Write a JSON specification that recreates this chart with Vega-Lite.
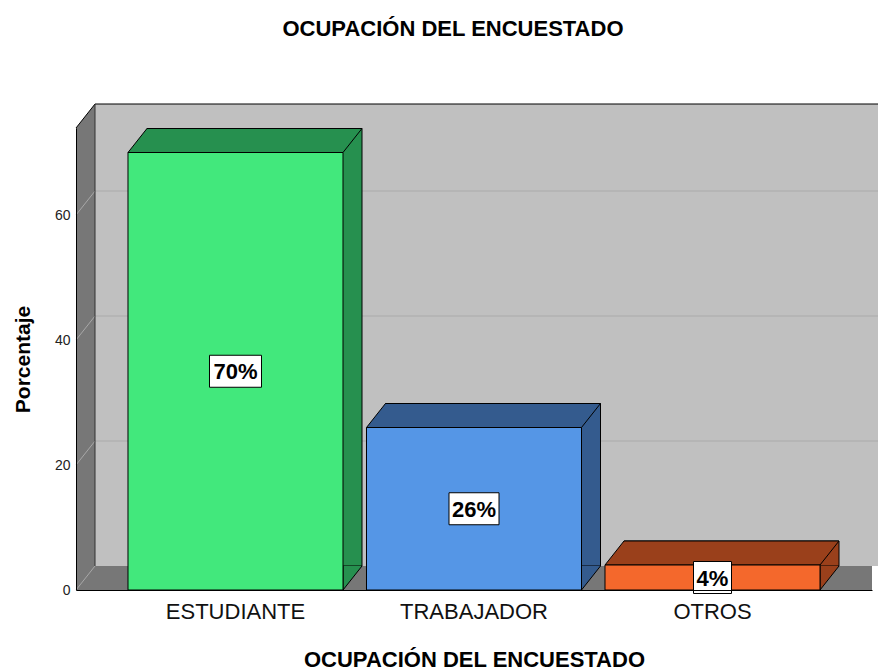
{
  "$schema": "https://vega.github.io/schema/vega-lite/v6.json",
  "width": 796,
  "height": 462,
  "autosize": "none",
  "padding": {"left": 76, "top": 128, "right": 6, "bottom": 80},
  "background": "white",
  "title": {"text": "OCUPACIÓN DEL ENCUESTADO", "fontSize": 22, "fontWeight": "bold", "font": "Liberation Sans", "color": "black", "anchor": "middle", "frame": "group", "dx": -21, "offset": 63},
  "data": {"values": [
    {"ocupacion": "ESTUDIANTE", "pct": 70, "etiqueta": "70%"},
    {"ocupacion": "TRABAJADOR", "pct": 26, "etiqueta": "26%"},
    {"ocupacion": "OTROS", "pct": 4, "etiqueta": "4%"}
  ]},
  "datasets": {
    "rejilla": [{"valor": 0}, {"valor": 20}, {"valor": 40}, {"valor": 60}],
    "marco": [{"pieza": "marco"}]
  },
  "layer": [
    {
      "data": {"name": "marco"},
      "mark": {"type": "rect", "fill": "#777777", "strokeWidth": 0},
      "encoding": {
        "x": {"datum": 0, "type": "quantitative", "scale": {"domain": [0, 1], "nice": false, "zero": false}, "axis": null},
        "x2": {"datum": 1},
        "y": {"datum": 0, "type": "quantitative", "scale": {"domain": [0, 73.92], "nice": false, "zero": true},
          "axis": {"title": "Porcentaje", "values": [0, 20, 40, 60], "grid": false, "ticks": false, "labelPadding": 6, "labelFontSize": 14, "labelFont": "Liberation Sans", "labelColor": "#222222", "domainColor": "black", "domainWidth": 1, "titleFontSize": 21, "titleFont": "Liberation Sans", "titleFontWeight": "bold", "titleColor": "black", "titlePadding": 21, "zindex": 1}},
        "y2": {"datum": 73.92}
      }
    },
    {
      "data": {"name": "marco"},
      "mark": {"type": "rect", "fill": "#c0c0c0", "strokeWidth": 0, "xOffset": 19, "x2Offset": 19, "yOffset": -24, "y2Offset": -24},
      "encoding": {
        "x": {"datum": 0, "type": "quantitative", "scale": {"domain": [0, 1], "nice": false, "zero": false}, "axis": null},
        "x2": {"datum": 1},
        "y": {"datum": 0, "type": "quantitative", "scale": {"domain": [0, 73.92], "nice": false, "zero": true}, "axis": null},
        "y2": {"datum": 73.92}
      }
    },
    {
      "data": {"name": "rejilla"},
      "transform": [{"filter": "datum.valor > 0"}],
      "mark": {"type": "rule", "color": "#aaaaaa", "strokeWidth": 1, "xOffset": 19, "x2Offset": 19, "yOffset": -24},
      "encoding": {
        "x": {"datum": 0, "type": "quantitative", "scale": {"domain": [0, 1], "nice": false, "zero": false}, "axis": null},
        "x2": {"datum": 1},
        "y": {"field": "valor", "type": "quantitative", "scale": {"domain": [0, 73.92], "nice": false, "zero": true}, "axis": null}
      }
    },
    {
      "data": {"name": "rejilla"},
      "mark": {"type": "rule", "color": "#a8a8a8", "strokeWidth": 1, "x2Offset": 19, "y2Offset": -24},
      "encoding": {
        "x": {"datum": 0, "type": "quantitative", "scale": {"domain": [0, 1], "nice": false, "zero": false}, "axis": null},
        "x2": {"datum": 0},
        "y": {"field": "valor", "type": "quantitative", "scale": {"domain": [0, 73.92], "nice": false, "zero": true}, "axis": null},
        "y2": {"field": "valor"}
      }
    },
    {
      "data": {"name": "marco"},
      "mark": {"type": "point", "shape": "M0,0L19,-24L19,0Z", "size": 4, "filled": true, "fill": "#777777", "strokeWidth": 0, "opacity": 1},
      "encoding": {
        "x": {"datum": 0, "type": "quantitative", "scale": {"domain": [0, 1], "nice": false, "zero": false}, "axis": null},
        "y": {"datum": 73.92, "type": "quantitative", "scale": {"domain": [0, 73.92], "nice": false, "zero": true}, "axis": null}
      }
    },
    {
      "data": {"name": "marco"},
      "mark": {"type": "rule", "color": "black", "strokeWidth": 1, "xOffset": 19, "x2Offset": 19, "yOffset": -24},
      "encoding": {
        "x": {"datum": 0, "type": "quantitative", "scale": {"domain": [0, 1], "nice": false, "zero": false}, "axis": null},
        "x2": {"datum": 1},
        "y": {"datum": 73.92, "type": "quantitative", "scale": {"domain": [0, 73.92], "nice": false, "zero": true}, "axis": null}
      }
    },
    {
      "data": {"name": "marco"},
      "mark": {"type": "rule", "color": "black", "strokeWidth": 1, "x2Offset": 19, "y2Offset": -24},
      "encoding": {
        "x": {"datum": 0, "type": "quantitative", "scale": {"domain": [0, 1], "nice": false, "zero": false}, "axis": null},
        "x2": {"datum": 0},
        "y": {"datum": 73.92, "type": "quantitative", "scale": {"domain": [0, 73.92], "nice": false, "zero": true}, "axis": null},
        "y2": {"datum": 73.92}
      }
    },
    {
      "data": {"name": "marco"},
      "mark": {"type": "rule", "color": "#333333", "strokeWidth": 1, "xOffset": 19, "yOffset": -24, "y2Offset": -24},
      "encoding": {
        "x": {"datum": 0, "type": "quantitative", "scale": {"domain": [0, 1], "nice": false, "zero": false}, "axis": null},
        "y": {"datum": 0, "type": "quantitative", "scale": {"domain": [0, 73.92], "nice": false, "zero": true}, "axis": null},
        "y2": {"datum": 73.92}
      }
    },
    {
      "mark": {"type": "bar", "stroke": "black", "strokeWidth": 1, "xOffset": 19, "x2Offset": 19, "yOffset": -24, "y2Offset": -24},
      "encoding": {
        "x": {"field": "ocupacion", "type": "nominal", "scale": {"type": "band", "domain": ["ESTUDIANTE", "TRABAJADOR", "OTROS"], "paddingInner": 0.0985, "paddingOuter": 0.218}, "axis": null},
        "y": {"field": "pct", "type": "quantitative", "scale": {"domain": [0, 73.92], "nice": false, "zero": true}, "axis": null},
        "color": {"field": "ocupacion", "type": "nominal", "scale": {"domain": ["ESTUDIANTE", "TRABAJADOR", "OTROS"], "range": ["#26904f", "#345b8e", "#9a401b"]}, "legend": null}
      }
    },
    {
      "mark": {"type": "point", "shape": "M0,0L19,-24L234,-24L215,0Z", "size": 4, "filled": true, "stroke": "black", "strokeWidth": 1, "opacity": 1},
      "encoding": {
        "x": {"field": "ocupacion", "type": "nominal", "bandPosition": 0, "scale": {"type": "band", "domain": ["ESTUDIANTE", "TRABAJADOR", "OTROS"], "paddingInner": 0.0985, "paddingOuter": 0.218}, "axis": null},
        "y": {"field": "pct", "type": "quantitative", "scale": {"domain": [0, 73.92], "nice": false, "zero": true}, "axis": null},
        "color": {"field": "ocupacion", "type": "nominal", "scale": {"domain": ["ESTUDIANTE", "TRABAJADOR", "OTROS"], "range": ["#26904f", "#345b8e", "#9a401b"]}, "legend": null}
      }
    },
    {
      "mark": {"type": "point", "shape": "M0,-24L0,0L19,-24", "size": 4, "filled": true, "stroke": "black", "strokeWidth": 1, "opacity": 1},
      "encoding": {
        "x": {"field": "ocupacion", "type": "nominal", "bandPosition": 1, "scale": {"type": "band", "domain": ["ESTUDIANTE", "TRABAJADOR", "OTROS"], "paddingInner": 0.0985, "paddingOuter": 0.218}, "axis": null},
        "y": {"datum": 0, "type": "quantitative", "scale": {"domain": [0, 73.92], "nice": false, "zero": true}, "axis": null},
        "color": {"field": "ocupacion", "type": "nominal", "scale": {"domain": ["ESTUDIANTE", "TRABAJADOR", "OTROS"], "range": ["#26904f", "#345b8e", "#9a401b"]}, "legend": null}
      }
    },
    {
      "mark": {"type": "bar", "stroke": "black", "strokeWidth": 1},
      "encoding": {
        "x": {"field": "ocupacion", "type": "nominal", "scale": {"type": "band", "domain": ["ESTUDIANTE", "TRABAJADOR", "OTROS"], "paddingInner": 0.0985, "paddingOuter": 0.218},
          "axis": {"title": "OCUPACIÓN DEL ENCUESTADO", "labelAngle": 0, "ticks": false, "labelPadding": 11, "labelFontSize": 22, "labelFont": "Liberation Sans", "labelColor": "#111111", "domainColor": "black", "domainWidth": 1, "titleFontSize": 22, "titleFont": "Liberation Sans", "titleFontWeight": "bold", "titleColor": "black", "titlePadding": 27, "zindex": 1}},
        "y": {"field": "pct", "type": "quantitative", "scale": {"domain": [0, 73.92], "nice": false, "zero": true}, "axis": null},
        "color": {"field": "ocupacion", "type": "nominal", "scale": {"domain": ["ESTUDIANTE", "TRABAJADOR", "OTROS"], "range": ["#42e87c", "#5596e6", "#f4682c"]}, "legend": null}
      }
    },
    {
      "mark": {"type": "point", "size": 4, "filled": true, "fill": "white", "stroke": "black", "strokeWidth": 1, "opacity": 1},
      "encoding": {
        "x": {"field": "ocupacion", "type": "nominal", "scale": {"type": "band", "domain": ["ESTUDIANTE", "TRABAJADOR", "OTROS"], "paddingInner": 0.0985, "paddingOuter": 0.218}, "axis": null},
        "y": {"field": "pct", "type": "quantitative", "scale": {"domain": [0, 147.84], "nice": false, "zero": true}, "axis": null},
        "shape": {"field": "ocupacion", "type": "nominal", "scale": {"domain": ["ESTUDIANTE", "TRABAJADOR", "OTROS"], "range": ["M-26,-16H26V16H-26Z", "M-25,-16H25V16H-25Z", "M-19,-16H19V16H-19Z"]}, "legend": null}
      }
    },
    {
      "mark": {"type": "text", "font": "Liberation Sans", "fontSize": 22, "fontWeight": "bold", "color": "black", "align": "center", "baseline": "middle", "dy": 1},
      "encoding": {
        "x": {"field": "ocupacion", "type": "nominal", "scale": {"type": "band", "domain": ["ESTUDIANTE", "TRABAJADOR", "OTROS"], "paddingInner": 0.0985, "paddingOuter": 0.218}, "axis": null},
        "y": {"field": "pct", "type": "quantitative", "scale": {"domain": [0, 147.84], "nice": false, "zero": true}, "axis": null},
        "text": {"field": "etiqueta", "type": "nominal"}
      }
    }
  ],
  "resolve": {"scale": {"x": "independent", "y": "independent", "color": "independent", "shape": "independent"}},
  "config": {"view": {"stroke": null}, "font": "Liberation Sans"}
}
